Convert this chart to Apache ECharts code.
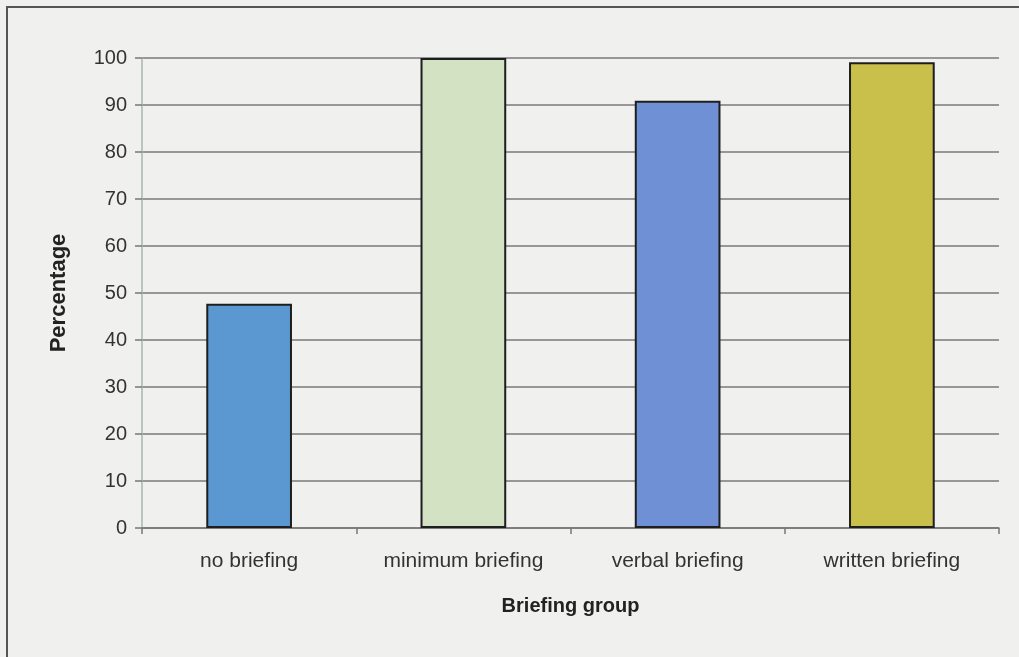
<!DOCTYPE html>
<html>
<head>
<meta charset="utf-8">
<script src="https://cdn.jsdelivr.net/npm/echarts@6/dist/echarts.min.js"></script>
<style>
  html, body { margin: 0; padding: 0; background: #f0f0ef; }
  #chart { width: 1019px; height: 657px; }
</style>
</head>
<body>
<div id="chart"></div>
<script>
// Briefing groups and share of participants (%)
const categories = ['no briefing', 'minimum briefing', 'verbal briefing', 'written briefing'];
const percentages = [47.7, 100, 90.9, 99.1];
const barColors = ['#5b98d2', '#d3e2c2', '#7090d6', '#c9bf4b'];
const yTicks = [0, 10, 20, 30, 40, 50, 60, 70, 80, 90, 100];

const chart = echarts.init(document.getElementById('chart'), null, { renderer: 'canvas' });

const font = 'Liberation Sans, Arial, sans-serif';

chart.setOption({
  backgroundColor: '#f0f0ef',
  animation: false,
  graphic: [
    {
      type: 'polyline',
      shape: { points: [[7, 657], [7, 7], [1019, 7]] },
      style: { stroke: '#555', lineWidth: 2, fill: null },
      silent: true
    }
  ],
  grid: { left: 142, right: 20, top: 58, bottom: 129 },
  xAxis: {
    type: 'category',
    data: categories,
    name: 'Briefing group',
    nameLocation: 'middle',
    nameGap: 68,
    nameTextStyle: { fontFamily: font, fontSize: 20, fontWeight: 'bold', color: '#222' },
    axisLine: { lineStyle: { color: '#777', width: 1.5 } },
    axisTick: { show: true, length: 6, lineStyle: { color: '#777', width: 1.5 } },
    axisLabel: { fontFamily: font, fontSize: 21, color: '#333', margin: 23 }
  },
  yAxis: {
    type: 'value',
    min: yTicks[0],
    max: yTicks[yTicks.length - 1],
    interval: 10,
    name: 'Percentage',
    nameLocation: 'middle',
    nameGap: 72,
    nameRotate: 90,
    nameTextStyle: { fontFamily: font, fontSize: 22, fontWeight: 'bold', color: '#222' },
    axisLine: { show: true, lineStyle: { color: '#a9b8aa', width: 1.5 } },
    axisTick: { show: true, length: 7, lineStyle: { color: '#777', width: 1.5 } },
    axisLabel: { fontFamily: font, fontSize: 20, color: '#333', margin: 15 },
    splitLine: { show: true, lineStyle: { color: '#7a7a7a', width: 1.5 } }
  },
  series: [
    {
      type: 'bar',
      data: percentages.map((v, i) => ({ value: v, itemStyle: { color: barColors[i] } })),
      barWidth: '40%',
      itemStyle: { borderColor: '#1e1e1e', borderWidth: 2 }
    }
  ]
});
</script>
</body>
</html>
